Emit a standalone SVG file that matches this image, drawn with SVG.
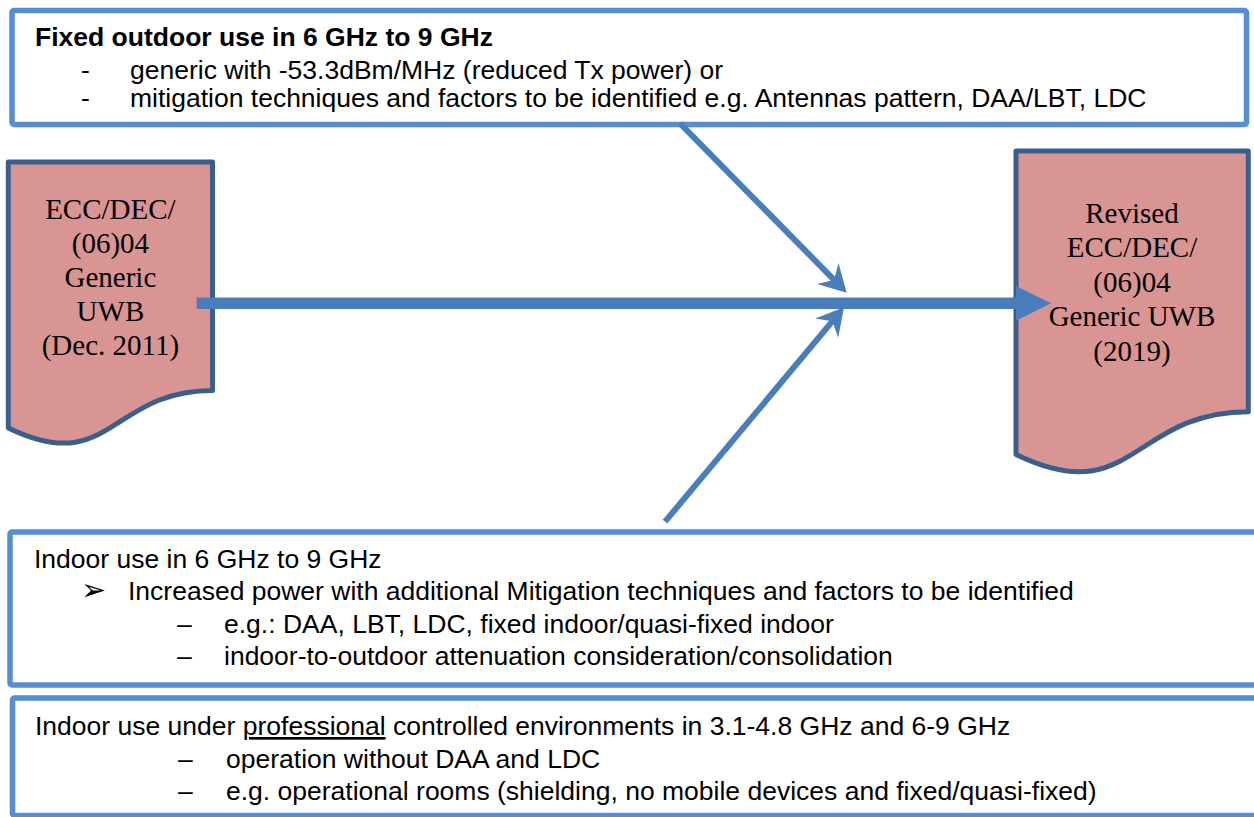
<svg xmlns="http://www.w3.org/2000/svg" width="1254" height="817" viewBox="0 0 1254 817">
<defs>
<style>
.box{fill:#ffffff;stroke:#558ed5;stroke-width:5.5;stroke-linejoin:round}
.doc{fill:#d99594;stroke:#3b5f8d;stroke-width:5;stroke-linejoin:round}
.t{font-family:"Liberation Sans",Arial,sans-serif;font-size:26.5px;fill:#000}
.b{font-weight:bold}
.s{font-family:"Liberation Serif","Times New Roman",serif;font-size:29px;fill:#000;text-anchor:middle}
.conn{stroke:#4a7ebb;fill:none}
.head{fill:#4a7ebb}
</style>
<marker id="stealth" viewBox="-28 -16 29 32" refX="-17" refY="0" markerWidth="29" markerHeight="32" markerUnits="userSpaceOnUse" orient="auto">
<path d="M0,0 L-27,-15 L-18,0 L-27,15 Z" fill="#4a7ebb"/>
</marker>
</defs>
<rect width="1254" height="817" fill="#ffffff"/>

<g id="box-fixed-outdoor">
<rect class="box" x="12" y="10.5" width="1234.5" height="114" rx="2"/>
<text class="t b" x="35" y="46">Fixed outdoor use in 6 GHz to 9 GHz</text>
<text class="t" x="81" y="79">-</text>
<text class="t" x="130" y="79">generic with -53.3dBm/MHz (reduced Tx power) or</text>
<text class="t" x="81" y="107">-</text>
<text class="t" x="130" y="107">mitigation techniques and factors to be identified e.g. Antennas pattern, DAA/LBT, LDC</text>
</g>

<g id="doc-ecc-2011">
<path class="doc" d="M8.3,162 H212.5 V390.4 C110.4,390.4 110.4,477.4 8.3,428 Z"/>
<text class="s" x="110.4" y="218.5">ECC/DEC/</text>
<text class="s" x="110.4" y="252.5">(06)04</text>
<text class="s" x="110.4" y="286.7">Generic</text>
<text class="s" x="110.4" y="321">UWB</text>
<text class="s" x="110.4" y="355">(Dec. 2011)</text>
</g>

<g id="doc-ecc-2019">
<path class="doc" d="M1016,151 H1248.3 V411.7 C1132.2,411.7 1132.2,510.9 1016,454.6 Z"/>
<text class="s" x="1132" y="222.7">Revised</text>
<text class="s" x="1132" y="257.3">ECC/DEC/</text>
<text class="s" x="1132" y="291.8">(06)04</text>
<text class="s" x="1132" y="326.4">Generic UWB</text>
<text class="s" x="1132" y="360.5">(2019)</text>
</g>

<g id="box-indoor">
<rect class="box" x="10" y="532" width="1262" height="153" rx="2"/>
<text class="t" x="34" y="568">Indoor use in 6 GHz to 9 GHz</text>
<text x="81" y="600" style="font-family:'DejaVu Sans',sans-serif;font-size:30px;fill:#000">➢</text>
<text class="t" x="128" y="600">Increased power with additional Mitigation techniques and factors to be identified</text>
<text class="t" x="177" y="633">–</text>
<text class="t" x="224" y="633">e.g.: DAA, LBT, LDC, fixed indoor/quasi-fixed indoor</text>
<text class="t" x="177" y="665">–</text>
<text class="t" x="224" y="665">indoor-to-outdoor attenuation consideration/consolidation</text>
</g>

<g id="box-professional">
<rect class="box" x="12.5" y="698" width="1262" height="117.5" rx="2"/>
<text class="t" x="35" y="735">Indoor use under <tspan text-decoration="underline">professional</tspan> controlled environments in 3.1-4.8 GHz and 6-9 GHz</text>
<text class="t" x="178" y="768">–</text>
<text class="t" x="226" y="768">operation without DAA and LDC</text>
<text class="t" x="178" y="800">–</text>
<text class="t" x="226" y="800">e.g. operational rooms (shielding, no mobile devices and fixed/quasi-fixed)</text>
</g>

<g id="connectors">
<line class="conn" x1="196.7" y1="303.3" x2="1018" y2="303.3" stroke-width="11.5"/>
<polygon class="head" points="1016,286 1051,303.3 1016,320.7"/>
<line class="conn" x1="680" y1="123.3" x2="834.8" y2="280.6" stroke-width="6" marker-end="url(#stealth)"/>
<line class="conn" x1="665" y1="521.7" x2="833.1" y2="320.4" stroke-width="6" marker-end="url(#stealth)"/>
</g>
</svg>
